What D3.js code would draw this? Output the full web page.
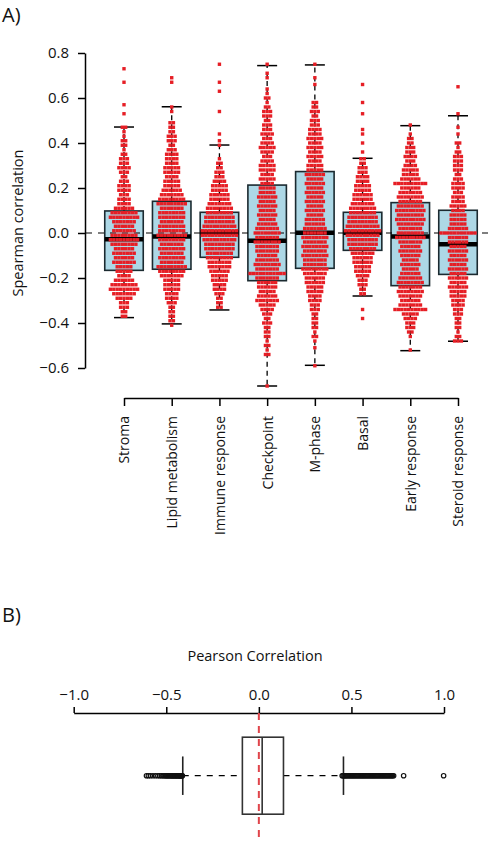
<!DOCTYPE html>
<html>
<head>
<meta charset="utf-8">
<script src="https://cdn.jsdelivr.net/npm/d3@7"></script>
<style>
  html, body { margin: 0; padding: 0; background: #fff; }
  svg { display: block; font-family: "Open Sans", "Noto Sans", sans-serif; }
</style>
</head>
<body>
<svg id="chart" width="495" height="844"></svg>
<script>
// ---------------- Panel A data ----------------
const categories = ["Stroma", "Lipid metabolism", "Immune response", "Checkpoint", "M-phase", "Basal", "Early response", "Steroid response"];
const q1Values = [-0.166, -0.161, -0.108, -0.212, -0.157, -0.077, -0.234, -0.184];
const medianValues = [-0.028, -0.016, 0.002, -0.034, 0.001, 0.001, -0.016, -0.05];
const q3Values = [0.098, 0.141, 0.092, 0.213, 0.273, 0.092, 0.135, 0.101];
const whiskerLowValues = [-0.376, -0.404, -0.342, -0.68, -0.588, -0.28, -0.523, -0.481];
const whiskerHighValues = [0.471, 0.561, 0.391, 0.744, 0.747, 0.332, 0.477, 0.521];
const yTickValues = [0.8, 0.6, 0.4, 0.2, 0.0, -0.2, -0.4, -0.6];

// beeswarm points: [correlation value, number of genes at that value]
const swarmStroma = [[0.73,1],[0.67,1],[0.57,1],[0.53,1],[0.47,2],[0.45,1],[0.43,1],[0.41,2],[0.39,2],[0.37,1],[0.35,2],[0.33,3],[0.31,3],[0.29,4],[0.27,3],[0.25,2],[0.23,3],[0.21,4],[0.19,4],[0.17,3],[0.15,4],[0.13,4],[0.11,6],[0.09,8],[0.07,9],[0.05,7],[0.03,6],[0.01,7],[-0.01,8],[-0.03,9],[-0.05,8],[-0.07,6],[-0.09,7],[-0.11,6],[-0.13,7],[-0.15,5],[-0.17,5],[-0.19,4],[-0.21,6],[-0.23,8],[-0.25,9],[-0.27,7],[-0.29,5],[-0.31,3],[-0.33,3],[-0.35,2],[-0.37,2]];
const swarmLipid = [[0.69,1],[0.67,1],[0.56,1],[0.54,1],[0.49,2],[0.47,2],[0.45,2],[0.43,3],[0.41,3],[0.39,2],[0.37,3],[0.35,4],[0.33,4],[0.31,4],[0.29,5],[0.27,5],[0.25,4],[0.23,5],[0.21,5],[0.19,6],[0.17,7],[0.15,8],[0.13,9],[0.11,7],[0.09,8],[0.07,8],[0.05,7],[0.03,8],[0.01,8],[-0.01,9],[-0.03,8],[-0.05,7],[-0.07,8],[-0.09,7],[-0.11,8],[-0.13,7],[-0.15,9],[-0.17,8],[-0.19,7],[-0.21,5],[-0.23,5],[-0.25,5],[-0.27,4],[-0.29,4],[-0.31,3],[-0.33,2],[-0.35,2],[-0.37,2],[-0.39,2],[-0.41,1]];
const swarmImmune = [[0.75,1],[0.67,1],[0.63,1],[0.54,1],[0.44,1],[0.41,1],[0.39,1],[0.33,1],[0.31,2],[0.29,2],[0.27,3],[0.25,3],[0.23,4],[0.21,5],[0.19,5],[0.17,6],[0.15,6],[0.13,7],[0.11,8],[0.09,8],[0.07,9],[0.05,9],[0.03,10],[0.01,11],[-0.01,11],[-0.03,10],[-0.05,9],[-0.07,9],[-0.09,8],[-0.11,8],[-0.13,7],[-0.15,7],[-0.17,6],[-0.19,5],[-0.21,5],[-0.23,4],[-0.25,4],[-0.27,3],[-0.29,2],[-0.31,2],[-0.33,2]];
const swarmCheckpoint = [[0.75,1],[0.71,1],[0.69,1],[0.64,1],[0.62,1],[0.60,2],[0.58,1],[0.56,2],[0.54,3],[0.52,3],[0.50,2],[0.48,3],[0.46,3],[0.44,4],[0.42,3],[0.40,4],[0.38,5],[0.36,4],[0.34,3],[0.32,4],[0.30,5],[0.28,5],[0.26,4],[0.24,5],[0.22,4],[0.20,5],[0.18,5],[0.16,6],[0.14,5],[0.12,6],[0.10,5],[0.08,6],[0.06,5],[0.04,6],[0.02,7],[0.00,8],[-0.02,7],[-0.04,8],[-0.06,7],[-0.08,7],[-0.10,6],[-0.12,7],[-0.14,8],[-0.16,7],[-0.18,11],[-0.20,7],[-0.22,6],[-0.24,6],[-0.26,5],[-0.28,6],[-0.30,7],[-0.32,5],[-0.34,4],[-0.36,3],[-0.38,2],[-0.40,3],[-0.42,2],[-0.44,2],[-0.46,2],[-0.48,1],[-0.50,2],[-0.52,1],[-0.54,2],[-0.68,1]];
const swarmMphase = [[0.75,1],[0.69,1],[0.66,1],[0.58,2],[0.56,2],[0.54,3],[0.52,2],[0.50,3],[0.48,3],[0.46,4],[0.44,4],[0.42,5],[0.40,4],[0.38,5],[0.36,4],[0.34,5],[0.32,4],[0.30,5],[0.28,5],[0.26,6],[0.24,5],[0.22,6],[0.20,5],[0.18,6],[0.16,5],[0.14,6],[0.12,5],[0.10,6],[0.08,5],[0.06,6],[0.04,6],[0.02,7],[0.00,7],[-0.02,8],[-0.04,7],[-0.06,8],[-0.08,7],[-0.10,8],[-0.12,7],[-0.14,7],[-0.16,8],[-0.18,7],[-0.20,6],[-0.22,6],[-0.24,5],[-0.26,5],[-0.28,4],[-0.30,4],[-0.32,3],[-0.34,3],[-0.36,2],[-0.38,2],[-0.40,2],[-0.42,2],[-0.44,1],[-0.46,2],[-0.48,1],[-0.51,1],[-0.59,1]];
const swarmBasal = [[0.66,1],[0.58,1],[0.53,1],[0.46,1],[0.44,1],[0.40,1],[0.36,1],[0.33,2],[0.31,2],[0.29,3],[0.27,3],[0.25,4],[0.23,4],[0.21,5],[0.19,5],[0.17,6],[0.15,6],[0.13,7],[0.11,8],[0.09,8],[0.07,9],[0.05,9],[0.03,10],[0.01,11],[-0.01,10],[-0.03,9],[-0.05,9],[-0.07,8],[-0.09,7],[-0.11,6],[-0.13,6],[-0.15,5],[-0.17,5],[-0.19,4],[-0.21,3],[-0.23,3],[-0.25,2],[-0.27,2],[-0.34,1],[-0.38,1]];
const swarmEarly = [[0.48,1],[0.44,1],[0.42,2],[0.40,2],[0.38,3],[0.36,3],[0.34,4],[0.32,3],[0.30,4],[0.28,5],[0.26,5],[0.24,6],[0.22,10],[0.20,6],[0.18,7],[0.16,8],[0.14,7],[0.12,8],[0.10,9],[0.08,8],[0.06,9],[0.04,8],[0.02,7],[0.00,8],[-0.02,9],[-0.04,7],[-0.06,6],[-0.08,7],[-0.10,6],[-0.12,5],[-0.14,6],[-0.16,5],[-0.18,6],[-0.20,7],[-0.22,8],[-0.24,7],[-0.26,8],[-0.28,7],[-0.30,6],[-0.32,7],[-0.34,10],[-0.36,5],[-0.38,4],[-0.40,3],[-0.42,3],[-0.44,2],[-0.46,1],[-0.52,1]];
const swarmSteroid = [[0.65,1],[0.53,1],[0.47,1],[0.44,1],[0.40,2],[0.38,1],[0.36,2],[0.34,3],[0.32,3],[0.30,3],[0.28,3],[0.26,2],[0.24,3],[0.22,4],[0.20,4],[0.18,3],[0.16,4],[0.14,4],[0.12,5],[0.10,4],[0.08,5],[0.06,5],[0.04,5],[0.02,6],[0.00,11],[-0.02,6],[-0.04,6],[-0.06,5],[-0.08,6],[-0.10,5],[-0.12,6],[-0.14,5],[-0.16,6],[-0.18,5],[-0.20,6],[-0.22,5],[-0.24,6],[-0.26,5],[-0.28,5],[-0.30,4],[-0.32,4],[-0.34,3],[-0.36,3],[-0.38,2],[-0.40,2],[-0.42,2],[-0.44,1],[-0.46,2],[-0.48,3]];
const swarms = [swarmStroma, swarmLipid, swarmImmune, swarmCheckpoint, swarmMphase, swarmBasal, swarmEarly, swarmSteroid];

// ---------------- Panel B data ----------------
const pearsonTicks = [-1.0, -0.5, 0.0, 0.5, 1.0];
const pearsonQ1 = -0.089, pearsonMedian = 0.018, pearsonQ3 = 0.133;
const pearsonWhiskerLow = -0.411, pearsonWhiskerHigh = 0.457;
const pearsonLowOutliers = [-0.607,-0.597,-0.586,-0.572,-0.558,-0.545,-0.535,-0.526,-0.518,-0.511,-0.505,-0.499,-0.494,-0.489,-0.484,-0.479,-0.474,-0.470,-0.466,-0.462,-0.458,-0.454,-0.450,-0.446,-0.442,-0.438,-0.434,-0.430,-0.427,-0.424,-0.421,-0.418,-0.415,-0.413];
const pearsonHighOutliers = [0.450,0.455,0.460,0.465,0.470,0.476,0.482,0.488,0.494,0.500,0.506,0.512,0.518,0.524,0.530,0.536,0.542,0.548,0.554,0.560,0.566,0.572,0.578,0.584,0.590,0.596,0.602,0.608,0.614,0.620,0.626,0.632,0.638,0.644,0.650,0.656,0.662,0.668,0.674,0.680,0.686,0.692,0.698,0.704,0.710,0.716,0.722,0.728,0.782,0.998];

const svg = d3.select("#chart");
const font = '"Open Sans", "Noto Sans", sans-serif';

// ================= Panel A =================
const y = d3.scaleLinear().domain([-0.6, 0.8]).range([368, 53]);
const x = d3.scalePoint().domain(categories).range([124, 458]);
const boxW = 38.5;
const capW = 20;

svg.append("text").attr("x", 2).attr("y", 22).attr("font-size", 20).attr("fill", "#111").text("A)");

const gA = svg.append("g");

categories.forEach((c, i) => {
  const cx = x(c);
  gA.append("line").attr("x1", cx).attr("x2", cx).attr("y1", y(q3Values[i])).attr("y2", y(whiskerHighValues[i]))
    .attr("stroke", "#000").attr("stroke-width", 1.3).attr("stroke-dasharray", "5,4");
  gA.append("line").attr("x1", cx).attr("x2", cx).attr("y1", y(q1Values[i])).attr("y2", y(whiskerLowValues[i]))
    .attr("stroke", "#000").attr("stroke-width", 1.3).attr("stroke-dasharray", "5,4");
  [whiskerHighValues[i], whiskerLowValues[i]].forEach(v => {
    gA.append("line").attr("x1", cx - capW / 2).attr("x2", cx + capW / 2).attr("y1", y(v)).attr("y2", y(v))
      .attr("stroke", "#000").attr("stroke-width", 1.5);
  });
  gA.append("rect").attr("x", cx - boxW / 2).attr("y", y(q3Values[i]))
    .attr("width", boxW).attr("height", y(q1Values[i]) - y(q3Values[i]))
    .attr("fill", "#add8e6").attr("stroke", "#1b2a30").attr("stroke-width", 1.6);
  gA.append("line").attr("x1", cx - boxW / 2).attr("x2", cx + boxW / 2)
    .attr("y1", y(medianValues[i])).attr("y2", y(medianValues[i]))
    .attr("stroke", "#000").attr("stroke-width", 4.5);
});

gA.append("line").attr("x1", 86).attr("x2", 493).attr("y1", y(0)).attr("y2", y(0))
  .attr("stroke", "#000").attr("stroke-width", 1.2).attr("stroke-dasharray", "6,6");

// beeswarm points
const pitch = 3.4, ptSize = 3.4;
swarms.forEach((sw, i) => {
  const cx = x(categories[i]);
  sw.forEach(([v, n]) => {
    for (let j = 0; j < n; j++) {
      const px = cx + (j - (n - 1) / 2) * pitch;
      gA.append("rect").attr("x", px - ptSize / 2).attr("y", y(v) - ptSize / 2)
        .attr("width", ptSize).attr("height", ptSize)
        .attr("fill", "#e61e25");
    }
  });
});

// y axis
const yAxis = svg.append("g").attr("transform", "translate(85,0)")
  .call(d3.axisLeft(y).tickValues(yTickValues).tickFormat(d3.format(".1f")).tickSize(7).tickSizeOuter(0).tickPadding(9));
yAxis.selectAll("path, line").attr("stroke", "#000").attr("stroke-width", 1.5);
yAxis.selectAll("text").attr("font-size", 15).attr("font-family", font).attr("fill", "#111");

svg.append("text").attr("transform", "translate(23,223) rotate(-90)")
  .attr("text-anchor", "middle").attr("font-size", 14.5).attr("fill", "#111").text("Spearman correlation");

// x axis
const xAxis = svg.append("g").attr("transform", "translate(0,398)")
  .call(d3.axisBottom(x).tickSize(8).tickSizeOuter(0));
xAxis.selectAll("path, line").attr("stroke", "#000").attr("stroke-width", 1.5);
xAxis.selectAll("text")
  .attr("transform", "rotate(-90)")
  .attr("x", -18).attr("y", 0).attr("dy", "0.35em")
  .attr("text-anchor", "end")
  .attr("font-size", 14).attr("font-family", font).attr("fill", "#111");

// ================= Panel B =================
const xb = d3.scaleLinear().domain([-1, 1]).range([73.7, 444]);
const cyB = 775.7, boxH = 77;

svg.append("text").attr("x", 2).attr("y", 622).attr("font-size", 20).attr("fill", "#111").text("B)");
svg.append("text").attr("x", 255).attr("y", 661).attr("text-anchor", "middle").attr("font-size", 14.5).attr("fill", "#111").text("Pearson Correlation");

const bAxis = svg.append("g").attr("transform", "translate(0,713)")
  .call(d3.axisTop(xb).tickValues(pearsonTicks).tickFormat(d3.format(".1f")).tickSize(6).tickSizeOuter(0).tickPadding(7));
bAxis.selectAll("path, line").attr("stroke", "#000").attr("stroke-width", 1.5);
bAxis.selectAll("text").attr("font-size", 15).attr("font-family", font).attr("fill", "#111");

const gB = svg.append("g");
gB.append("line").attr("x1", xb(pearsonWhiskerLow)).attr("x2", xb(pearsonQ1)).attr("y1", cyB).attr("y2", cyB)
  .attr("stroke", "#000").attr("stroke-width", 1.3).attr("stroke-dasharray", "6,6");
gB.append("line").attr("x1", xb(pearsonQ3)).attr("x2", xb(pearsonWhiskerHigh)).attr("y1", cyB).attr("y2", cyB)
  .attr("stroke", "#000").attr("stroke-width", 1.3).attr("stroke-dasharray", "6,6");
[pearsonWhiskerLow, pearsonWhiskerHigh].forEach(v => {
  gB.append("line").attr("x1", xb(v)).attr("x2", xb(v)).attr("y1", cyB - boxH / 4).attr("y2", cyB + boxH / 4)
    .attr("stroke", "#222").attr("stroke-width", 1.6);
});
gB.append("rect").attr("x", xb(pearsonQ1)).attr("y", cyB - boxH / 2)
  .attr("width", xb(pearsonQ3) - xb(pearsonQ1)).attr("height", boxH)
  .attr("fill", "none").attr("stroke", "#333").attr("stroke-width", 1.6);
gB.append("line").attr("x1", xb(pearsonMedian)).attr("x2", xb(pearsonMedian)).attr("y1", cyB - boxH / 2).attr("y2", cyB + boxH / 2)
  .attr("stroke", "#333").attr("stroke-width", 1.6);
pearsonLowOutliers.concat(pearsonHighOutliers).forEach(v => {
  gB.append("circle").attr("cx", xb(v)).attr("cy", cyB).attr("r", 2.2)
    .attr("fill", "none").attr("stroke", "#111").attr("stroke-width", 1.2);
});
gB.append("line").attr("x1", xb(0)).attr("x2", xb(0)).attr("y1", 713).attr("y2", 837)
  .attr("stroke", "#e0454b").attr("stroke-width", 2).attr("stroke-dasharray", "7,6");
</script>
</body>
</html>
